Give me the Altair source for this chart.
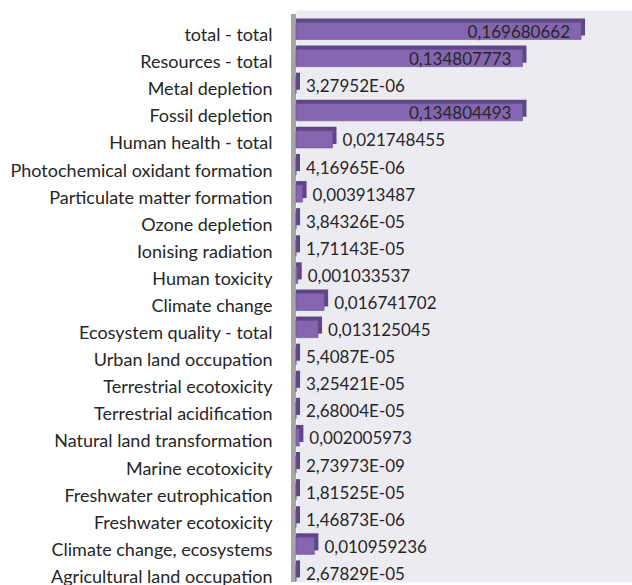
import altair as alt
import pandas as pd

# Impact categories, top to bottom
categories = [
    "total - total",
    "Resources - total",
    "Metal depletion",
    "Fossil depletion",
    "Human health - total",
    "Photochemical oxidant formation",
    "Particulate matter formation",
    "Ozone depletion",
    "Ionising radiation",
    "Human toxicity",
    "Climate change",
    "Ecosystem quality - total",
    "Urban land occupation",
    "Terrestrial ecotoxicity",
    "Terrestrial acidification",
    "Natural land transformation",
    "Marine ecotoxicity",
    "Freshwater eutrophication",
    "Freshwater ecotoxicity",
    "Climate change, ecosystems",
    "Agricultural land occupation",
]

# Scores as printed (decimal comma)
value_labels = [
    "0,169680662",
    "0,134807773",
    "3,27952E-06",
    "0,134804493",
    "0,021748455",
    "4,16965E-06",
    "0,003913487",
    "3,84326E-05",
    "1,71143E-05",
    "0,001033537",
    "0,016741702",
    "0,013125045",
    "5,4087E-05",
    "3,25421E-05",
    "2,68004E-05",
    "0,002005973",
    "2,73973E-09",
    "1,81525E-05",
    "1,46873E-06",
    "0,010959236",
    "2,67829E-05",
]

values = [float(s.replace(",", ".")) for s in value_labels]
df = pd.DataFrame({"category": categories, "value": values, "label": value_labels})

W, H = 336, 572
FONT = "Lato"
TEXT = "#262626"

y_enc = alt.Y(
    "category:N",
    sort=categories,
    scale=alt.Scale(paddingInner=0.37, paddingOuter=0.24, align=0.96),
    axis=alt.Axis(
        title=None,
        domain=False,
        ticks=False,
        labelFont=FONT,
        labelFontSize=18,
        labelColor=TEXT,
        labelPadding=24,
        labelOffset=5,
        labelLimit=400,
    ),
)
x_enc = alt.X(
    "value:Q",
    stack=None,
    scale=alt.Scale(domain=[0, 0.2], nice=False, zero=True),
    axis=None,
)

base = alt.Chart(df)

# gray side wall of the 3D plot box
wall = (
    alt.Chart(pd.DataFrame({"k": [0]}))
    .mark_rect(color="#A6A6A6")
    .encode(x=alt.value(-5), x2=alt.value(0), y=alt.value(4), y2=alt.value(H))
)

# darker depth faces (top and right side) drawn behind the front face
depth = base.mark_bar(color="#5E4687", xOffset=4, yOffset=-4).encode(x=x_enc, y=y_enc)
front = base.mark_bar(color="#8466B0", stroke="#6B5296", strokeWidth=0.6).encode(
    x=x_enc, y=y_enc
)

inside = (
    base.transform_filter("datum.value > 0.1")
    .mark_text(align="right", dx=-11, dy=2, font=FONT, fontSize=17, color=TEXT)
    .encode(x=x_enc, y=y_enc, text="label:N")
)
outside = (
    base.transform_filter("datum.value <= 0.1")
    .mark_text(align="left", dx=10, dy=2, font=FONT, fontSize=17, color=TEXT)
    .encode(x=x_enc, y=y_enc, text="label:N")
)

chart = (
    alt.layer(wall, depth, front, inside, outside)
    .properties(
        width=W,
        height=H,
        autosize=alt.AutoSizeParams(type="none"),
        padding={"left": 296, "top": 10, "right": 0, "bottom": 3},
        background="white",
    )
    .configure_view(fill="#EDEBF2", strokeOpacity=0)
)

chart.save("out.html", embed_options={"renderer": "svg", "actions": False})
